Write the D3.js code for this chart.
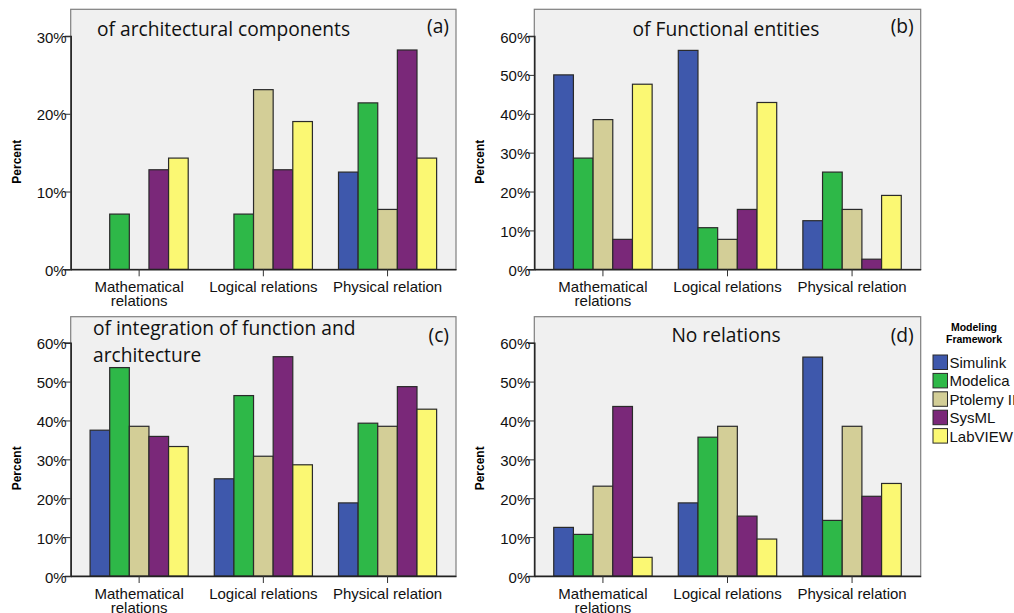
<!DOCTYPE html>
<html lang="en">
<head>
  <meta charset="UTF-8">
  <title>Relations by modeling framework</title>
  <script src="https://d3js.org/d3.v7.min.js"></script>
  <style>
    body { margin: 0; background: #fff; }
    svg { display: block; }
    .tick-label { font-family: "Liberation Sans", Arial, sans-serif; font-size: 15px; fill: #111; }
    .panel-title { font-family: "Open Sans", sans-serif; font-size: 19.2px; fill: #111; }
    .ylab { font-family: "Liberation Sans", Arial, sans-serif; font-size: 12px; font-weight: bold; fill: #000; }
  </style>
</head>
<body>
  <svg id="chart" width="1014" height="613"></svg>

  <script>
    // categories and series
    const categories = ["Mathematical relations", "Logical relations", "Physical relation"];
    const frameworks = ["Simulink", "Modelica", "Ptolemy II", "SysML", "LabVIEW"];
    const colors = ["#3e58ac", "#2eb848", "#d3ce97", "#7a2879", "#fbf873"];

    // percent values, one row per category, one entry per framework
    const valuesA = [
      [0, 7.1, 0, 12.8, 14.3],
      [0, 7.1, 23.1, 12.8, 19.0],
      [12.5, 21.4, 7.7, 28.2, 14.3]
    ];
    const valuesB = [
      [50.0, 28.6, 38.5, 7.7, 47.6],
      [56.3, 10.7, 7.7, 15.4, 42.9],
      [12.5, 25.0, 15.4, 2.6, 19.0]
    ];
    const valuesC = [
      [37.5, 53.6, 38.5, 35.9, 33.3],
      [25.0, 46.4, 30.8, 56.4, 28.6],
      [18.8, 39.3, 38.5, 48.7, 42.9]
    ];
    const valuesD = [
      [12.5, 10.7, 23.1, 43.6, 4.8],
      [18.8, 35.7, 38.5, 15.4, 9.5],
      [56.3, 14.3, 38.5, 20.5, 23.8]
    ];

    const titles = [["of architectural components"], ["of Functional entities"],
                    ["of integration of function and", "architecture"], ["No relations"]];
    const letters = ["(a)", "(b)", "(c)", "(d)"];
    const ticksA = [0, 10, 20, 30];
    const ticksOther = [0, 10, 20, 30, 40, 50, 60];

    const svg = d3.select("#chart");

    // panel boxes: left, right, top of frame, zero line, top tick position
    const panels = [
      { vals: valuesA, ticks: ticksA, x0: 70.7, x1: 456, top: 9.3, base: 269.3, yTop: 36, titleX: 97, titleY: 26.5, titleAnchor: "start" },
      { vals: valuesB, ticks: ticksOther, x0: 534.3, x1: 920.7, top: 9.3, base: 269.3, yTop: 36, titleX: 726, titleY: 26.5, titleAnchor: "middle" },
      { vals: valuesC, ticks: ticksOther, x0: 70.7, x1: 456, top: 316.7, base: 576, yTop: 342.7, titleX: 93, titleY: 18.5, titleAnchor: "start" },
      { vals: valuesD, ticks: ticksOther, x0: 534.3, x1: 920.7, top: 316.7, base: 576, yTop: 342.7, titleX: 726, titleY: 25, titleAnchor: "middle" }
    ];

    panels.forEach((p, i) => {
      const g = svg.append("g");
      const maxTick = d3.max(p.ticks);

      const x = d3.scaleBand()
        .domain(categories)
        .range([p.x0, p.x1])
        .paddingInner(0.21)
        .paddingOuter(0.156);
      const xs = d3.scaleBand()
        .domain(frameworks)
        .range([0, x.bandwidth()]);
      const y = d3.scaleLinear()
        .domain([0, maxTick])
        .range([p.base, p.yTop]);

      // plot background + frame
      g.append("rect")
        .attr("x", p.x0).attr("y", p.top)
        .attr("width", p.x1 - p.x0).attr("height", p.base - p.top)
        .attr("fill", "#f0f0f0")
        .attr("stroke", "#7f7f7f")
        .attr("stroke-width", 1.2);

      // bars
      const groups = g.selectAll(".grp")
        .data(p.vals)
        .enter()
        .append("g")
        .attr("transform", (d, ci) => `translate(${x(categories[ci])},0)`);

      groups.selectAll("rect")
        .data(d => d)
        .enter()
        .append("rect")
        .attr("x", (d, si) => xs(frameworks[si]))
        .attr("y", d => y(d))
        .attr("width", xs.bandwidth())
        .attr("height", d => p.base - y(d))
        .attr("fill", (d, si) => colors[si])
        .attr("stroke", "#2a2a2a")
        .attr("stroke-width", 1.2);

      // y axis
      const yAxis = g.append("g")
        .attr("transform", `translate(${p.x0},0)`)
        .call(d3.axisLeft(y).tickValues(p.ticks).tickSize(6).tickFormat(d => d + "%"));
      yAxis.select(".domain").attr("stroke", "#222").attr("stroke-width", 1.5);
      yAxis.selectAll(".tick line").attr("stroke", "#333");
      yAxis.selectAll(".tick text")
        .attr("class", "tick-label")
        .attr("x", -4)
        .attr("dy", "0.4em")
        .attr("fill", null);

      // x axis
      const xAxis = g.append("g")
        .attr("transform", `translate(0,${p.base})`)
        .call(d3.axisBottom(x).tickSize(7).tickSizeOuter(0).tickFormat(""));
      xAxis.select(".domain").attr("stroke", "#222").attr("stroke-width", 1.5);
      xAxis.selectAll(".tick line").attr("stroke", "#333");

      categories.forEach(c => {
        const words = c === "Mathematical relations" ? ["Mathematical", "relations"] : [c];
        const t = g.append("text")
          .attr("class", "tick-label")
          .attr("text-anchor", "middle")
          .attr("x", x(c) + x.bandwidth() / 2)
          .attr("y", p.base + 22.5);
        words.forEach((w, wi) => {
          t.append("tspan")
            .attr("x", x(c) + x.bandwidth() / 2)
            .attr("dy", wi === 0 ? 0 : 14)
            .text(w);
        });
      });

      // y label
      g.append("text")
        .attr("class", "ylab")
        .attr("text-anchor", "middle")
        .attr("transform", `translate(${p.x0 - 50},${(p.base + p.yTop) / 2 + 9}) rotate(-90)`)
        .text("Percent");

      // title and letter
      const tt = g.append("text")
        .attr("class", "panel-title")
        .attr("text-anchor", p.titleAnchor)
        .attr("x", p.titleX)
        .attr("y", p.top + p.titleY);
      titles[i].forEach((line, li) => {
        tt.append("tspan")
          .attr("x", p.titleX)
          .attr("dy", li === 0 ? 0 : 27)
          .text(line);
      });

      g.append("text")
        .attr("class", "panel-title")
        .attr("text-anchor", "end")
        .attr("x", p.x1 - 7)
        .attr("y", p.top + (i < 2 ? 24 : 25))
        .text(letters[i]);
    });

    // legend
    const legend = svg.append("g");
    legend.append("text")
      .attr("x", 974).attr("y", 331)
      .attr("text-anchor", "middle")
      .style("font-family", "Liberation Sans, Arial, sans-serif")
      .style("font-size", "10.5px")
      .style("font-weight", "bold")
      .selectAll("tspan")
      .data(["Modeling", "Framework"])
      .enter()
      .append("tspan")
      .attr("x", 974)
      .attr("dy", (d, i) => i === 0 ? 0 : 11.5)
      .text(d => d);

    const ly = d3.scaleBand().domain(frameworks).range([355, 447]);
    const items = legend.selectAll(".item")
      .data(frameworks)
      .enter()
      .append("g")
      .attr("transform", d => `translate(933,${ly(d)})`);
    items.append("rect")
      .attr("width", 14.5).attr("height", 14.5)
      .attr("fill", (d, i) => colors[i])
      .attr("stroke", "#2a2a2a")
      .attr("stroke-width", 1);
    items.append("text")
      .attr("class", "tick-label")
      .attr("x", 16.5)
      .attr("y", 13)
      .text(d => d);
  </script>
</body>
</html>
